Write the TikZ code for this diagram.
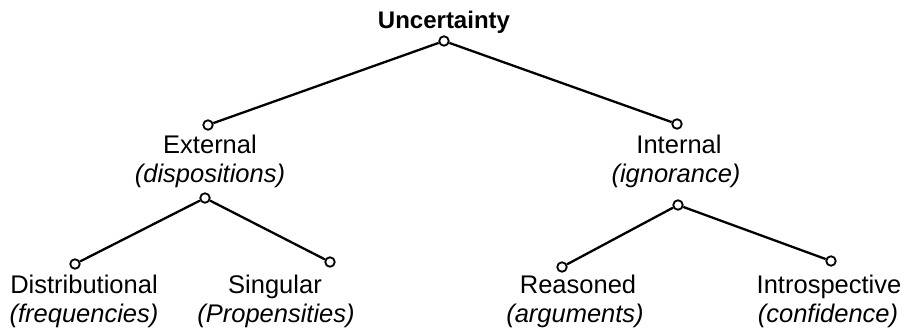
\documentclass[tikz,border=0pt]{standalone}
\usepackage{fontspec}
\setmainfont{Liberation Sans}
\begin{document}
\begin{tikzpicture}[x=1pt,y=-1pt,
  dot/.style={circle,draw,fill=white,line width=1.8pt,inner sep=0pt,minimum size=9.5pt},
  conn/.style={line width=2.3pt},
  lbl/.style={anchor=base,inner sep=0pt,font=\fontsize{25.5}{30}\selectfont},
  ilbl/.style={lbl,font=\fontsize{25.5}{30}\selectfont\itshape},
  ttl/.style={anchor=base,inner sep=0pt,font=\fontsize{24}{28}\selectfont\bfseries}]
\useasboundingbox (0,0) rectangle (904,332);
% dots
\node[dot] (u) at (444,41) {};
\node[dot] (et) at (208,125) {};
\node[dot] (eb) at (205,198) {};
\node[dot] (it) at (677,124) {};
\node[dot] (ib) at (678,205) {};
\node[dot] (d) at (75,264) {};
\node[dot] (s) at (330,262) {};
\node[dot] (r) at (562,267) {};
\node[dot] (n) at (831,261) {};
% connectors
\draw[conn] (u) -- (et);
\draw[conn] (u) -- (it);
\draw[conn] (eb) -- (d);
\draw[conn] (eb) -- (s);
\draw[conn] (ib) -- (r);
\draw[conn] (ib) -- (n);
% texts
\node[ttl] (tu) at (444,28) {Uncertainty};
\node[lbl] (te1) at (210,153) {External};
\node[ilbl] (te2) at (210,182) {(dispositions)};
\node[lbl] (ti1) at (679,153) {Internal};
\node[ilbl] (ti2) at (676,182) {(ignorance)};
\node[lbl] (td1) at (84,293) {Distributional};
\node[ilbl] (td2) at (84,322) {(frequencies)};
\node[lbl] (ts1) at (275,293) {Singular};
\node[ilbl] (ts2) at (276,322) {(Propensities)};
\node[lbl] (tr1) at (578,293) {Reasoned};
\node[ilbl] (tr2) at (575,322) {(arguments)};
\node[lbl] (tn1) at (829,293) {Introspective};
\node[ilbl] (tn2) at (828,322) {(confidence)};
\end{tikzpicture}
\end{document}
